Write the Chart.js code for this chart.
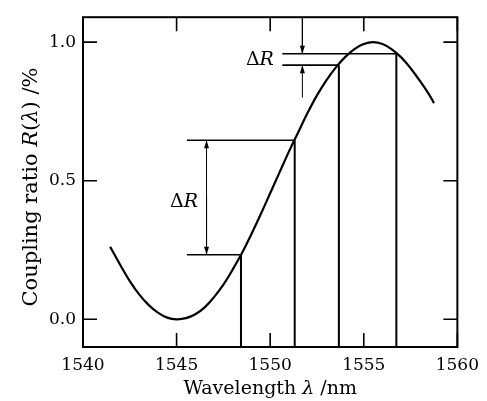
<!DOCTYPE html>
<html>
<head>
<meta charset="utf-8">
<script src="https://cdn.jsdelivr.net/npm/chart.js@4.4.1/dist/chart.umd.min.js"></script>
<style>
  html, body { margin: 0; padding: 0; background: #fff; }
  #wrap { width: 487px; height: 401px; }
</style>
</head>
<body>
<div id="wrap"><canvas id="chart1" width="487" height="401"></canvas></div>
<script>
// coupling ratio curve
const wavelength = [1541.45, 1542, 1542.5, 1543, 1543.5, 1544, 1544.5, 1545, 1545.5, 1546,
  1546.5, 1547, 1547.5, 1548, 1548.5, 1549, 1549.5, 1550, 1550.5, 1551,
  1551.5, 1552, 1552.5, 1553, 1553.5, 1554, 1554.5, 1555, 1555.5, 1556,
  1556.5, 1557, 1557.5, 1558, 1558.5, 1558.75];
const coupling = [0.262, 0.195, 0.138, 0.090, 0.052, 0.024, 0.006, 0.0, 0.004, 0.018,
  0.043, 0.080, 0.125, 0.180, 0.240, 0.308, 0.380, 0.455, 0.530, 0.605,
  0.675, 0.745, 0.808, 0.862, 0.908, 0.946, 0.975, 0.993, 1.000, 0.993,
  0.974, 0.945, 0.906, 0.860, 0.810, 0.780];

// drop lines and level lines
const dropX = [1548.44, 1551.31, 1553.67, 1556.74];
const dropY = [0.233, 0.646, 0.917, 0.958];
const levelStart = [1545.55, 1545.55, 1550.65, 1550.65];

// arrows (head at arrowTo)
const arrowX = [1546.6, 1546.6, 1551.72, 1551.72];
const arrowFrom = [0.44, 0.44, 1.09, 0.80];
const arrowTo = [0.646, 0.233, 0.958, 0.917];

// delta R labels (right edge, middle)
const labelX = [1546.15, 1550.2];
const labelY = [0.422, 0.936];

const xTicks = [1540, 1545, 1550, 1555, 1560];
const yTicks = [0.0, 0.5, 1.0];
const xMin = 1540, xMax = 1560, yMin = -0.1, yMax = 1.09;

const serif = "'DejaVu Serif', serif";

function buildDatasets() {
  const sets = [];
  sets.push({
    data: wavelength.map((x, i) => ({ x: x, y: coupling[i] })),
    borderColor: '#000', borderWidth: 2.2, tension: 0.4, pointRadius: 0
  });
  dropX.forEach((x, i) => {
    sets.push({
      data: [{ x: x, y: yMin }, { x: x, y: dropY[i] }],
      borderColor: '#000', borderWidth: 2, pointRadius: 0
    });
    sets.push({
      data: [{ x: levelStart[i], y: dropY[i] }, { x: x, y: dropY[i] }],
      borderColor: '#000', borderWidth: 1.6, pointRadius: 0
    });
  });
  arrowX.forEach((x, i) => {
    sets.push({
      data: [{ x: x, y: arrowFrom[i] }, { x: x, y: arrowTo[i] }],
      borderColor: '#000', borderWidth: 1, pointRadius: 0
    });
  });
  return sets;
}

const framePlugin = {
  id: 'frame',
  afterDraw(chart) {
    const ctx = chart.ctx;
    const a = chart.chartArea;
    const xs = chart.scales.x, ys = chart.scales.y;
    ctx.save();
    ctx.strokeStyle = '#000';
    ctx.fillStyle = '#000';
    // box
    ctx.lineWidth = 2;
    ctx.strokeRect(a.left, a.top, a.right - a.left, a.bottom - a.top);
    // inward ticks on all sides
    const tl = 14;
    ctx.lineWidth = 1.6;
    ctx.beginPath();
    xTicks.forEach(v => {
      const px = xs.getPixelForValue(v);
      ctx.moveTo(px, a.bottom); ctx.lineTo(px, a.bottom - tl);
      ctx.moveTo(px, a.top); ctx.lineTo(px, a.top + tl);
    });
    yTicks.forEach(v => {
      const py = ys.getPixelForValue(v);
      ctx.moveTo(a.left, py); ctx.lineTo(a.left + tl, py);
      ctx.moveTo(a.right, py); ctx.lineTo(a.right - tl, py);
    });
    ctx.stroke();
    // arrow heads
    arrowX.forEach((x, i) => {
      const px = xs.getPixelForValue(x);
      const tip = ys.getPixelForValue(arrowTo[i]);
      const dir = arrowTo[i] > arrowFrom[i] ? 1 : -1;
      ctx.beginPath();
      ctx.moveTo(px, tip);
      ctx.lineTo(px - 2.5, tip + dir * 8);
      ctx.lineTo(px + 2.5, tip + dir * 8);
      ctx.closePath();
      ctx.fill();
    });
    // delta R labels
    ctx.textBaseline = 'middle';
    labelX.forEach((x, i) => {
      const px = xs.getPixelForValue(x);
      const py = ys.getPixelForValue(labelY[i]);
      ctx.font = 'italic 19px ' + serif;
      const rw = ctx.measureText('R').width;
      ctx.textAlign = 'right';
      ctx.fillText('R', px, py);
      ctx.font = '19px ' + serif;
      ctx.fillText('\u0394', px - rw, py);
    });
    // axis titles with italic symbols
    drawMixed(ctx, [['Wavelength ', false], ['\u03bb', true], [' /nm', false]],
      (a.left + a.right) / 2, 394, 19, 0);
    drawMixed(ctx, [['Coupling ratio ', false], ['R', true], ['(', false], ['\u03bb', true], [') /%', false]],
      37, 187, 21, -Math.PI / 2);
    ctx.restore();
  }
};

function drawMixed(ctx, parts, cx, cy, size, rot) {
  ctx.save();
  ctx.translate(cx, cy);
  ctx.rotate(rot);
  let total = 0;
  parts.forEach(p => {
    ctx.font = (p[1] ? 'italic ' : '') + size + 'px ' + serif;
    total += ctx.measureText(p[0]).width;
  });
  let x = -total / 2;
  ctx.textAlign = 'left';
  ctx.textBaseline = 'alphabetic';
  parts.forEach(p => {
    ctx.font = (p[1] ? 'italic ' : '') + size + 'px ' + serif;
    ctx.fillText(p[0], x, 0);
    x += ctx.measureText(p[0]).width;
  });
  ctx.restore();
}

document.addEventListener('DOMContentLoaded', function () {
  const chartCanvas = document.getElementById('chart1');
  new Chart(chartCanvas.getContext('2d'), {
    type: 'line',
    data: { datasets: buildDatasets() },
    options: {
      responsive: false,
      animation: false,
      layout: { padding: { left: 0, top: 10, right: 28, bottom: 0 } },
      plugins: { legend: { display: false }, tooltip: { enabled: false } },
      scales: {
        x: {
          type: 'linear', min: xMin, max: xMax,
          afterBuildTicks: s => { s.ticks = xTicks.map(v => ({ value: v })); },
          afterFit: s => { s.height = 54; },
          grid: { display: false, drawTicks: false },
          border: { display: false },
          ticks: { padding: 8, color: '#000', font: { family: serif, size: 17 }, maxRotation: 0,
            callback: v => String(v) }
        },
        y: {
          type: 'linear', min: yMin, max: yMax,
          afterBuildTicks: s => { s.ticks = yTicks.map(v => ({ value: v })); },
          afterFit: s => { s.width = 83; },
          grid: { display: false, drawTicks: false },
          border: { display: false },
          ticks: { padding: 7, color: '#000', font: { family: serif, size: 17 },
            callback: v => v.toFixed(1) }
        }
      }
    },
    plugins: [framePlugin]
  });
});
</script>
</body>
</html>
